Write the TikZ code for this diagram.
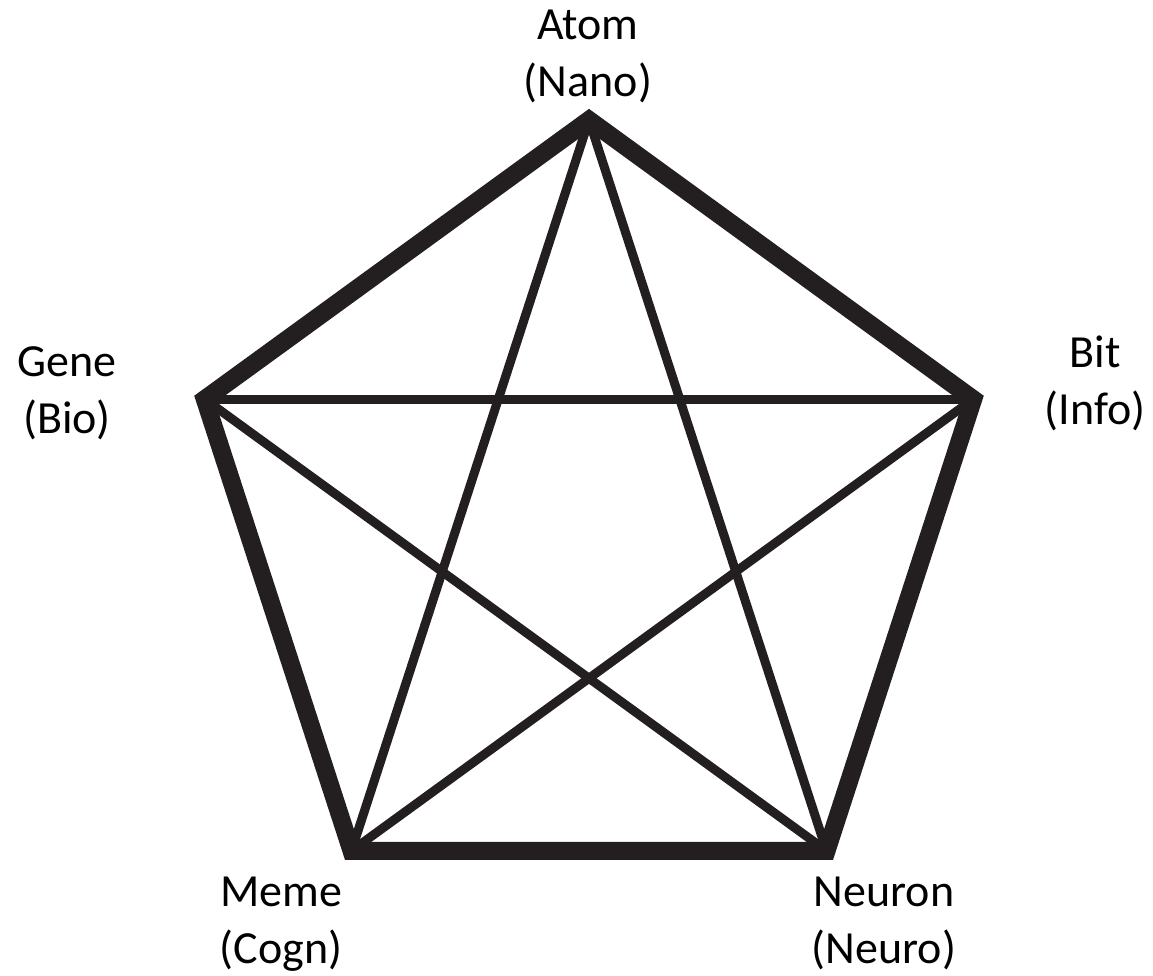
\documentclass[tikz,border=0pt]{standalone}
\usepackage{fontspec}
\setmainfont{Carlito}
\usetikzlibrary{positioning}
\definecolor{ink}{RGB}{35,31,32}
\tikzset{
  rim/.style={draw=ink, line width=18pt, line join=miter}, % outer pentagon
  chord/.style={draw=ink, line width=9pt}, % the inner star lines
  lbl/.style={align=center, anchor=base, inner sep=0pt,
    font=\fontsize{46}{57}\selectfont}, % corner texts
}
\begin{document}
\begin{tikzpicture}[x=1pt,y=-1pt]
    \useasboundingbox (0,0) rectangle (1153,976);

    % corners of the pentagon
    \coordinate (atom) at (589,120);
    \coordinate (bit) at (973.2,399.2);
    \coordinate (neuron) at (826.5,850.8);
    \coordinate (meme) at (351.5,850.8);
    \coordinate (gene) at (204.8,399.2);

    \draw[chord] (atom) -- (neuron);
    \draw[chord] (atom) -- (meme);
    \draw[chord] (gene) -- (bit);
    \draw[chord] (gene) -- (neuron);
    \draw[chord] (bit) -- (meme);

    \draw[rim] (atom) -- (bit) -- (neuron) -- (meme) -- (gene) -- cycle;

    % base anchor sits on the last line
    \node[lbl] (atomlbl) at (588,97) {Atom\\(Nano)};
    \node[lbl] (genelbl) at (67,433) {Gene\\(Bio)};
    \node[lbl] (bitlbl) at (1095,424) {Bit\\(Info)};
    \node[lbl] (memelbl) at (281,963) {Meme\\(Cogn)};
    \node[lbl] (neuronlbl) at (884,963) {Neuron\\(Neuro)};
\end{tikzpicture}
\end{document}
